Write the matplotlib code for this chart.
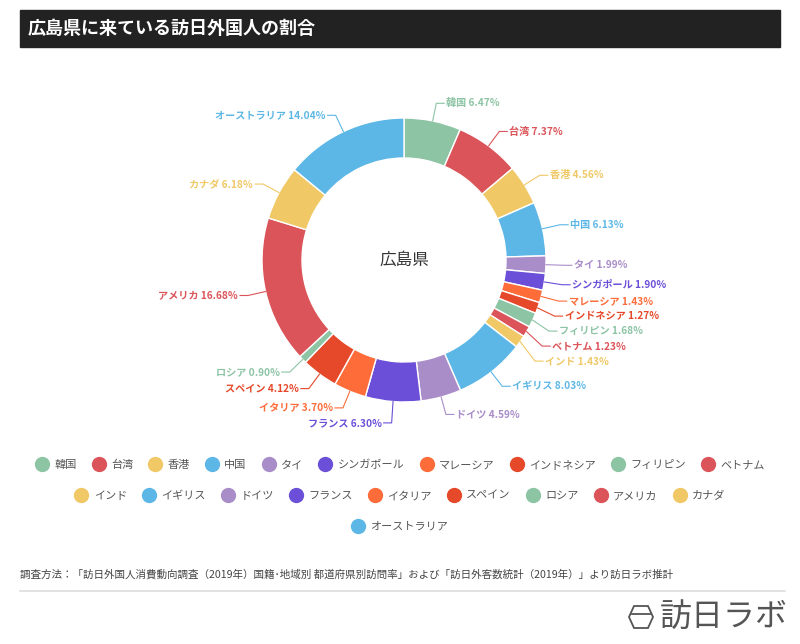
import matplotlib
matplotlib.use("Agg")
import matplotlib.pyplot as plt
from matplotlib.lines import Line2D
from matplotlib.patches import Rectangle, Polygon
import numpy as np

plt.rcParams["font.family"] = "Noto Sans CJK JP"

countries = ["韓国", "台湾", "香港", "中国", "タイ", "シンガポール", "マレーシア", "インドネシア",
             "フィリピン", "ベトナム", "インド", "イギリス", "ドイツ", "フランス", "イタリア", "スペイン",
             "ロシア", "アメリカ", "カナダ", "オーストラリア"]
shares = [6.47, 7.37, 4.56, 6.13, 1.99, 1.90, 1.43, 1.27, 1.68, 1.23, 1.43, 8.03, 4.59, 6.30,
          3.70, 4.12, 0.90, 16.68, 6.18, 14.04]
cyc = ["#8cc4a4", "#db5459", "#f0c866", "#5db7e6", "#a98dc9", "#6b4fd8", "#fe6c3a", "#e5492a"]
colors = [cyc[i % 8] for i in range(len(countries))]

W, H = 800, 644
fig = plt.figure(figsize=(8, 6.44), dpi=100)
ax = fig.add_axes([0, 0, 1, 1])

# title bar
ax.add_patch(Rectangle((20, H - 47), 760, 37, color="#222222"))
ax.text(28, H - 28.5, "広島県に来ている訪日外国人の割合", color="white", fontsize=13,
        fontweight="bold", va="center", ha="left")

cx, cy, R = 404, H - 260, 142
wedges, _ = ax.pie(shares, colors=colors, startangle=90, counterclock=False, center=(cx, cy),
                   radius=R, wedgeprops=dict(width=40, edgecolor="white", linewidth=1),
                   frame=True)
ax.set_xlim(0, W); ax.set_ylim(0, H); ax.set_aspect("equal"); ax.axis("off")
ax.text(cx, cy, "広島県", fontsize=12, ha="center", va="center", color="#333333")

# labels
items = []
for w, c, s, col in zip(wedges, countries, shares, colors):
    a = np.deg2rad((w.theta1 + w.theta2) / 2)
    x0, y0 = cx + R * np.cos(a), cy + R * np.sin(a)
    tx, ty = cx + (R + 18) * np.cos(a), cy + (R + 18) * np.sin(a)
    items.append([c, s, col, x0, y0, tx, ty, np.cos(a) >= 0])
for side in (True, False):
    grp = sorted([it for it in items if it[7] == side], key=lambda it: -it[6])
    for i in range(1, len(grp)):
        if grp[i - 1][6] - grp[i][6] < 15:
            grp[i][6] = grp[i - 1][6] - 15
for c, s, col, x0, y0, tx, ty, right in items:
    ex = tx + (8 if right else -8)
    ax.plot([x0, tx, ex], [y0, ty, ty], color=col, lw=0.8)
    ax.text(ex + (2 if right else -2), ty, f"{c} {s:.2f}%", color=col, fontsize=7.3,
            fontweight="semibold", ha="left" if right else "right", va="center")

# legend rows
rows = [countries[:10], countries[10:19], countries[19:]]
ys = [465, 496, 527]
for names, y in zip(rows, ys):
    hs = [Line2D([], [], marker="o", ls="", markersize=10, color=colors[countries.index(n)])
          for n in names]
    fig.legend(hs, names, ncol=len(names), loc="center", bbox_to_anchor=(0.5, 1 - y / H),
               frameon=False, fontsize=8, labelcolor="#555555", handletextpad=0.5,
               columnspacing=1.4, handlelength=1.2)

ax.text(20, H - 574, "調査方法：「訪日外国人消費動向調査（2019年）国籍･地域別 都道府県別訪問率」および「訪日外客数統計（2019年）」より訪日ラボ推計",
        fontsize=7.6, color="#444444", va="center")
ax.plot([20, 785], [H - 591, H - 591], color="#dddddd", lw=1.2)
hx, hy = 641, H - 617
ax.add_patch(Polygon([(hx - 12, hy), (hx - 7, hy + 11), (hx + 7, hy + 11), (hx + 12, hy),
                      (hx + 7, hy - 11), (hx - 7, hy - 11)], closed=True, fill=False,
                     ec="#555555", lw=1.3))
ax.plot([hx - 9, hx + 9], [hy + 3, hy + 3], color="#555555", lw=1.3)
ax.text(660, hy, "訪日ラボ", fontsize=23, color="#555555", va="center", ha="left")

fig.savefig("out.png", dpi=100, facecolor="white")
